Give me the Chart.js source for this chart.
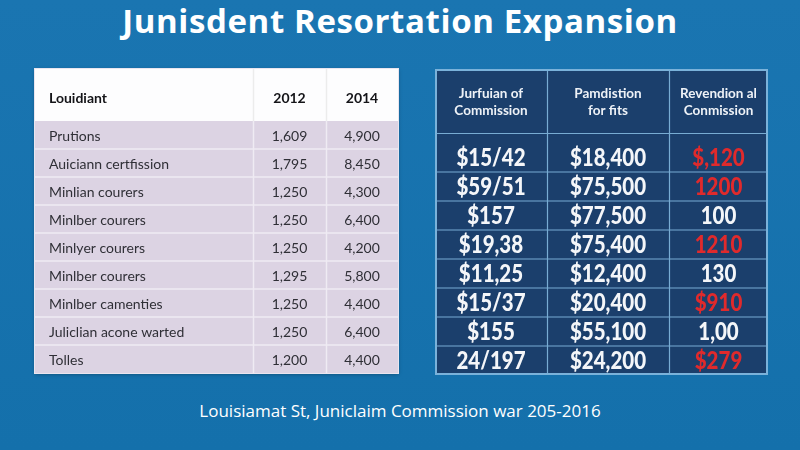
<!DOCTYPE html>
<html>
<head>
<meta charset="utf-8">
<title>Junisdent Resortation Expansion</title>
<script src="https://cdn.jsdelivr.net/npm/chart.js@4.4.1/dist/chart.umd.min.js"></script>
<style>
    html, body { margin: 0; padding: 0; }
    body {
        width: 800px; height: 450px; overflow: hidden; position: relative;
        background: linear-gradient(#1a75b1, #1470ab);
        font-family: "Open Sans", Lato, sans-serif;
    }
    #title {
        position: absolute; left: 0; top: 0; width: 800px; text-align: center;
        color: #fff; font-weight: 700; font-size: 33px; line-height: 41px; letter-spacing: 0.6px;
    }
    #footer {
        position: absolute; left: 0; top: 399px; width: 800px; text-align: center;
        color: #fff; font-size: 17px; line-height: 24px;
    }
    #leftBox { position: absolute; left: 35px; top: 69px; box-shadow: 0 0 0 1px #e9e5ef, 0 1px 4px rgba(0,0,0,0.35); }
    #rightBox { position: absolute; left: 435px; top: 69px; }
    canvas { display: block; }
</style>
</head>
<body>
<div id="title">Junisdent Resortation Expansion</div>
<div id="leftBox"><canvas id="leftTable" width="363" height="304"></canvas></div>
<div id="rightBox"><canvas id="rightTable" width="333" height="306"></canvas></div>
<div id="footer">Louisiamat St, Juniclaim Commission war 205-2016</div>

<script>
// --- DATA ---
const leftHeader = ['Louidiant', '2012', '2014'];
const leftRows = ['Prutions', 'Auiciann certfission', 'Minlian courers', 'Minlber courers', 'Minlyer courers',
    'Minlber courers', 'Minlber camenties', 'Juliclian acone warted', 'Tolles'];
const values2012 = [1609, 1795, 1250, 1250, 1250, 1295, 1250, 1250, 1200];
const values2014 = [4900, 8450, 4300, 6400, 4200, 5800, 4400, 6400, 4400];

const rightHeader = [['Jurfuian of', 'Commission'], ['Pamdistion', 'for fits'], ['Revendion al', 'Conmission']];
const commission = ['$15/42', '$59/51', '$157', '$19,38', '$11,25', '$15/37', '$155', '24/197'];
const pamdistion = [18400, 75500, 77500, 75400, 12400, 20400, 55100, 24200];
const revention = ['$,120', '1200', '100', '1210', '130', '$910', '1,00', '$279'];
const reventionFlag = [true, true, false, true, false, true, false, true];

// column edges of each table (layout, in table px)
const leftEdges = [0, 218, 291, 363];
const rightEdges = [0, 112, 234, 333];

const fmt = v => v.toLocaleString('en-US');

// draws header, cell texts and grid lines on top of the bar "cells"
function tablePlugin(o) {
    return {
        id: 'tableCells',
        beforeDraw(chart) {
            const { ctx, width, chartArea } = chart;
            ctx.save();
            ctx.fillStyle = o.pageBg;
            ctx.fillRect(0, 0, width, chart.height);
            ctx.fillStyle = o.headerBg;
            ctx.fillRect(0, 0, width, chartArea.top);
            ctx.restore();
        },
        afterDatasetsDraw(chart) {
            const { ctx, chartArea, scales: { x } } = chart;
            const edges = o.edges;
            ctx.save();

            // horizontal lines between rows
            ctx.strokeStyle = o.lineColor;
            ctx.lineWidth = o.lineWidth;
            const meta0 = chart.getDatasetMeta(0);
            meta0.data.forEach((bar, r) => {
                if (r === meta0.data.length - 1) return;
                const { y, height } = bar.getProps(['y', 'height'], true);
                ctx.beginPath();
                ctx.moveTo(chartArea.left, y + height / 2);
                ctx.lineTo(chartArea.right, y + height / 2);
                ctx.stroke();
            });
            if (o.headerLine != null) {
                ctx.beginPath();
                ctx.moveTo(chartArea.left, o.headerLine);
                ctx.lineTo(chartArea.right, o.headerLine);
                ctx.stroke();
            }
            // vertical lines
            for (let c = 1; c < edges.length - 1; c++) {
                const px = Math.round(x.getPixelForValue(edges[c])) + 0.5;
                ctx.strokeStyle = o.lineColor;
                ctx.beginPath();
                ctx.moveTo(px, o.vTop);
                ctx.lineTo(px, chartArea.bottom);
                ctx.stroke();
                if (o.headerVLine) {
                    ctx.strokeStyle = o.headerVLine;
                    ctx.beginPath();
                    ctx.moveTo(px, 0);
                    ctx.lineTo(px, o.vTop);
                    ctx.stroke();
                }
            }
            if (o.border) {
                ctx.strokeStyle = o.border;
                ctx.lineWidth = 2;
                ctx.strokeRect(1, 1, chart.width - 2, chart.height - 2);
            }

            // header
            ctx.textBaseline = 'middle';
            ctx.fillStyle = o.headerColor;
            ctx.font = o.headerFont;
            o.header.forEach((h, c) => {
                const lines = Array.isArray(h) ? h : [h];
                const align = o.headerAlign[c];
                const cx = align === 'left'
                    ? x.getPixelForValue(edges[c]) + o.textPad
                    : x.getPixelForValue((edges[c] + edges[c + 1]) / 2);
                ctx.textAlign = align;
                lines.forEach((t, i) => {
                    ctx.fillText(t, cx, o.headerY + (i - (lines.length - 1) / 2) * o.headerLineH);
                });
            });

            // cells
            chart.data.datasets.forEach((ds, c) => {
                const meta = chart.getDatasetMeta(c);
                ctx.font = ds.cellFont;
                ctx.textAlign = ds.cellAlign;
                meta.data.forEach((bar, r) => {
                    const { x: right, base: left, y } = bar.getProps(['x', 'base', 'y'], true);
                    const tx = ds.cellAlign === 'left' ? left + o.textPad : (left + right) / 2;
                    ctx.fillStyle = ds.cellColors ? ds.cellColors[r] : ds.cellColor;
                    ctx.save();
                    ctx.translate(tx, y + (ds.cellDy || 0));
                    ctx.scale(ds.cellScaleX || 1, 1);
                    ctx.fillText(ds.cellText[r], 0, 0);
                    ctx.restore();
                });
            });
            ctx.restore();
        }
    };
}

function tableOptions(padTop, maxX) {
    return {
        indexAxis: 'y',
        responsive: false,
        animation: false,
        events: [],
        layout: { padding: { top: padTop, left: 0, right: 0, bottom: 0 } },
        plugins: { legend: { display: false }, tooltip: { enabled: false } },
        scales: {
            x: { type: 'linear', display: false, min: 0, max: maxX },
            y: { display: false }
        }
    };
}

// --- LEFT TABLE ---
const leftText = [leftRows, values2012.map(fmt), values2014.map(fmt)];
new Chart(document.getElementById('leftTable'), {
    type: 'bar',
    data: {
        labels: leftRows,
        datasets: leftText.map((cells, c) => ({
            data: leftRows.map(() => [leftEdges[c], leftEdges[c + 1]]),
            backgroundColor: '#dcd3e3',
            borderWidth: 0,
            barPercentage: 1,
            categoryPercentage: 1,
            grouped: false,
            cellText: cells,
            cellFont: '14px Lato, "Open Sans", sans-serif',
            cellAlign: c === 0 ? 'left' : 'center',
            cellColor: '#2f2f36',
            cellDy: 1
        }))
    },
    options: tableOptions(52, leftEdges[3]),
    plugins: [tablePlugin({
        edges: leftEdges,
        pageBg: '#dcd3e3',
        headerBg: '#fdfdfe',
        lineColor: '#efebf3',
        lineWidth: 1.5,
        headerVLine: '#ececec',
        vTop: 52,
        header: leftHeader,
        headerAlign: ['left', 'center', 'center'],
        headerFont: 'bold 14px Lato, "Open Sans", sans-serif',
        headerColor: '#141418',
        headerY: 29,
        headerLineH: 0,
        textPad: 14
    })]
});

// --- RIGHT TABLE ---
const rightText = [commission, pamdistion.map(v => '$' + fmt(v)), revention];
new Chart(document.getElementById('rightTable'), {
    type: 'bar',
    data: {
        labels: commission,
        datasets: rightText.map((cells, c) => ({
            data: commission.map(() => [rightEdges[c], rightEdges[c + 1]]),
            backgroundColor: '#1b3f6c',
            borderWidth: 0,
            barPercentage: 1,
            categoryPercentage: 1,
            grouped: false,
            cellText: cells,
            cellFont: '900 25px Lato, "Open Sans", sans-serif',
            cellAlign: 'center',
            cellScaleX: 0.82,
            cellColor: '#f4f6f9',
            cellColors: c === 2 ? reventionFlag.map(f => f ? '#e02a2c' : '#f4f6f9') : null,
            cellDy: 0
        }))
    },
    options: tableOptions(74, rightEdges[3]),
    plugins: [tablePlugin({
        edges: rightEdges,
        pageBg: '#1b3f6c',
        headerBg: '#1b3f6c',
        lineColor: '#78acd3',
        lineWidth: 1.2,
        headerLine: 64.5,
        vTop: 0,
        border: '#7ab2da',
        header: rightHeader,
        headerAlign: ['center', 'center', 'center'],
        headerFont: 'bold 13.5px Lato, "Open Sans", sans-serif',
        headerColor: '#eef2f7',
        headerY: 33,
        headerLineH: 17,
        textPad: 10
    })]
});
</script>
</body>
</html>
